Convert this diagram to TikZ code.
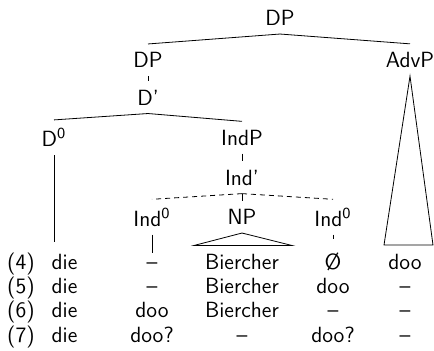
\documentclass[tikz,border=0pt]{standalone}
\usepackage{tikz}
\usetikzlibrary{shapes,arrows}
\tikzstyle{cat} = [inner sep=4pt]
\tikzstyle{cell} = [inner sep=0pt, text height=1.25ex, text depth=0pt]
\tikzstyle{branch} = [draw]
\tikzstyle{dashedBranch} = [draw, dash pattern=on 2.5pt off 2pt]

\begin{document}
\begin{tikzpicture}[node distance = 21pt, x=0.5pt, y=0.5pt, font=\sffamily\fontsize{11}{13.6}\selectfont]
    \useasboundingbox (0,0) rectangle (434,-351);
    % Place nodes
    \node [cat] (dpTop) at (280,-18) {DP};
    \node [cat, below of=dpTop, xshift=-66pt] (dp) {DP};
    \node [cat, below of=dpTop, xshift=65pt] (advP) {AdvP};
    \node [cat, below of=dp, node distance=18.75pt] (dBar) {D'};
    \node [cat, below of=dBar, node distance=20pt, xshift=-47pt] (dZero) {D\textsuperscript{0}};
    \node [cat, below of=dBar, node distance=20pt, xshift=47pt] (indP) {IndP};
    \node [cat, below of=indP, node distance=20pt] (indBar) {Ind'};
    \node [cat, below of=indBar, node distance=19.75pt, xshift=-45pt] (indZeroA) {Ind\textsuperscript{0}};
    \node [cat, below of=indBar, node distance=19.75pt] (np) {NP};
    \node [cat, below of=indBar, node distance=19.75pt, xshift=45.5pt] (indZeroB) {Ind\textsuperscript{0}};
    \coordinate [below of=dZero, node distance=52.5pt] (dLeaf);
    \coordinate [below of=indZeroA, node distance=18pt] (indALeaf);
    \coordinate [below of=np, node distance=14.25pt, xshift=-24pt] (npLeft);
    \coordinate [below of=np, node distance=14.25pt, xshift=25pt] (npRight);
    \coordinate [below of=indZeroB, node distance=11pt] (zeroLeaf);
    \coordinate [below of=advP, node distance=92.5pt, xshift=-13pt] (advLeft);
    \coordinate [below of=advP, node distance=92.5pt, xshift=11.5pt] (advRight);

    % Example rows
    \node [cell, below of=indZeroA, node distance=23.4pt] (indA4) {–};
    \node [cell, below of=np, node distance=23.4pt] (np4) {Biercher};
    \node [cell, below of=indZeroB, node distance=23.4pt] (indB4) {Ø};
    \node [cell, left of=indA4, node distance=43.75pt] (die4) {die};
    \node [cell, left of=die4, node distance=21.75pt] (ex4) {(4)};
    \node [cell, right of=indB4, node distance=36pt] (adv4) {doo};
    \node [cell, below of=ex4, node distance=12.15pt] (ex5) {(5)};
    \node [cell, below of=die4, node distance=12.15pt] (die5) {die};
    \node [cell, below of=indA4, node distance=12.15pt] (indA5) {–};
    \node [cell, below of=np4, node distance=12.15pt] (np5) {Biercher};
    \node [cell, below of=indB4, node distance=12.15pt] (indB5) {doo};
    \node [cell, below of=adv4, node distance=12.15pt] (adv5) {–};
    \node [cell, below of=ex5, node distance=12.15pt] (ex6) {(6)};
    \node [cell, below of=die5, node distance=12.15pt] (die6) {die};
    \node [cell, below of=indA5, node distance=12.15pt] (indA6) {doo};
    \node [cell, below of=np5, node distance=12.15pt] (np6) {Biercher};
    \node [cell, below of=indB5, node distance=12.15pt] (indB6) {–};
    \node [cell, below of=adv5, node distance=12.15pt] (adv6) {–};
    \node [cell, below of=ex6, node distance=12.15pt] (ex7) {(7)};
    \node [cell, below of=die6, node distance=12.15pt] (die7) {die};
    \node [cell, below of=indA6, node distance=12.15pt] (indA7) {doo?};
    \node [cell, below of=np6, node distance=12.15pt] (np7) {–};
    \node [cell, below of=indB6, node distance=12.15pt] (indB7) {doo?};
    \node [cell, below of=adv6, node distance=12.15pt] (adv7) {–};

    % Draw branches
    \path [branch] (dpTop.south) -- (dp.north);
    \path [branch] (dpTop.south) -- (advP.north);
    \path [branch] (dp.south) -- (dBar.north);
    \path [branch] (dBar.south) -- (dZero.north);
    \path [branch] (dBar.south) -- (indP.north);
    \path [branch] (dZero.south) -- (dLeaf);
    \path [branch] (indP.south) -- (indBar.north);
    \path [dashedBranch] (indBar.south) -- (indZeroA.north);
    \path [branch] (indBar.south) -- (np.north);
    \path [dashedBranch] (indBar.south) -- (indZeroB.north);
    \path [branch] (indZeroA.south) -- (indALeaf);
    \path [branch] (np.south) -- (npLeft) -- (npRight) -- cycle;
    \path [branch] (indZeroB.south) -- (zeroLeaf);
    \path [branch] (advP.south) -- (advLeft) -- (advRight) -- cycle;
\end{tikzpicture}
\end{document}
